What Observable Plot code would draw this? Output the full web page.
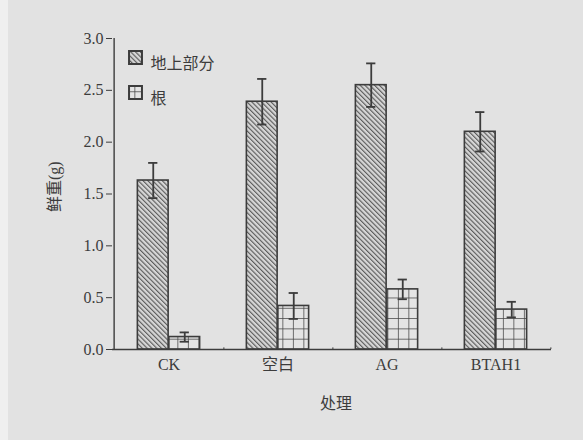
<!DOCTYPE html>
<html><head><meta charset="utf-8">
<script src="https://cdn.jsdelivr.net/npm/d3@7"></script>
<script src="https://cdn.jsdelivr.net/npm/@observablehq/plot@0.6"></script>
<style>
html,body{margin:0;padding:0;background:#e2e2e2;}
#chart{position:relative;width:583px;height:440px;background:#e2e2e2;}
#strip{position:absolute;left:0;top:0;width:8px;height:440px;background:#efefef;}
</style></head><body><div id="chart"><div id="strip"></div></div>
<script>
const categories = ["CK", "空白", "AG", "BTAH1"];
const seriesNames = ["地上部分", "根"];
const shootMean = [1.63, 2.39, 2.55, 2.10];
const shootErr = [0.17, 0.22, 0.21, 0.19];
const rootMean = [0.12, 0.42, 0.58, 0.385];
const rootErr = [0.045, 0.125, 0.095, 0.075];
const yTicks = [0, 0.5, 1.0, 1.5, 2.0, 2.5, 3.0];
const yLabel = "鲜重(g)";
const xLabel = "处理";

const W = 583, H = 440, ML = 112, MR = 32, MT = 38, MB = 91;
const BW = (W - ML - MR) / categories.length;
const BAR = 31.5, CAP = 10;
const ink = "#3c3c3c";

const shoot = categories.map((c, i) => ({cat: c, mean: shootMean[i], err: shootErr[i]}));
const root = categories.map((c, i) => ({cat: c, mean: rootMean[i], err: rootErr[i]}));

function errMarks(data, off) {
  return [
    Plot.ruleX(data, {x: "cat", y1: d => d.mean - d.err, y2: d => d.mean + d.err, dx: off, stroke: ink, strokeWidth: 1.8}),
    Plot.tickY(data, {x: "cat", y: d => d.mean + d.err, stroke: ink, strokeWidth: 1.8,
      insetLeft: BW / 2 + off - CAP / 2, insetRight: BW / 2 - off - CAP / 2}),
    Plot.tickY(data, {x: "cat", y: d => d.mean - d.err, stroke: ink, strokeWidth: 1.8,
      insetLeft: BW / 2 + off - CAP / 2, insetRight: BW / 2 - off - CAP / 2})
  ];
}

const svg = Plot.plot({
  width: W, height: H,
  marginLeft: ML, marginRight: MR, marginTop: MT, marginBottom: MB,
  style: {background: "transparent", fontFamily: "'Liberation Serif','Noto Sans CJK SC',serif", color: ink, overflow: "visible"},
  x: {domain: categories, padding: 0},
  y: {domain: [0, 3]},
  marks: [
    Plot.barY(shoot, {x: "cat", y: "mean", fill: "url(#hatch)", stroke: ink, strokeWidth: 1.6,
      insetLeft: BW / 2 - BAR, insetRight: BW / 2}),
    Plot.barY(root, {x: "cat", y: "mean", fill: "url(#grid)", stroke: ink, strokeWidth: 1.6,
      insetLeft: BW / 2, insetRight: BW / 2 - BAR}),
    ...errMarks(shoot, -BAR / 2),
    ...errMarks(root, BAR / 2),
    Plot.ruleY([0], {stroke: ink, strokeWidth: 1.4}),
    Plot.ruleX([categories[0]], {dx: -BW / 2, y1: 0, y2: 3, stroke: ink, strokeWidth: 1.4}),
    Plot.ruleX(categories, {x: d => d, dx: BW / 2, y1: 0, y2: 0.035, insetBottom: -2, stroke: ink, strokeWidth: 1}),
    Plot.axisY({ticks: yTicks, tickFormat: d => d.toFixed(1), tickSize: 6, tickPadding: 3, fontSize: 16, label: null, stroke: ink}),
    Plot.axisX({tickSize: 0, tickPadding: 9, fontSize: 16, label: null}),
    Plot.text([yLabel], {text: d => d, frameAnchor: "left", dx: -58, dy: 18, rotate: -90, fontSize: 16, fill: ink}),
    Plot.text([xLabel], {text: d => d, frameAnchor: "bottom", dx: 4, dy: 59, fontSize: 16, fill: ink}),
    Plot.dot([seriesNames[0]], {frameAnchor: "top-left", dx: 23, dy: 19, symbol: "square", r: 7.3, fill: "url(#hatch)", stroke: ink, strokeWidth: 2}),
    Plot.text([seriesNames[0]], {text: d => d, frameAnchor: "top-left", dx: 38, dy: 19, textAnchor: "start", fontSize: 16, fill: ink, style: "letter-spacing:2.5px"}),
    Plot.dot([seriesNames[1]], {frameAnchor: "top-left", dx: 23, dy: 54, symbol: "square", r: 7.3, fill: "url(#grid)", stroke: ink, strokeWidth: 2}),
    Plot.text([seriesNames[1]], {text: d => d, frameAnchor: "top-left", dx: 38, dy: 54, textAnchor: "start", fontSize: 16, fill: ink})
  ]
});

const defs = document.createElementNS("http://www.w3.org/2000/svg", "defs");
defs.innerHTML = `
<pattern id="hatch" patternUnits="userSpaceOnUse" width="3.4" height="3.4" patternTransform="rotate(-45)">
  <rect width="3.4" height="3.4" fill="#d6d6d6"/>
  <line x1="0.6" y1="0" x2="0.6" y2="3.4" stroke="#4a4a4a" stroke-width="1"/>
</pattern>
<pattern id="grid" patternUnits="userSpaceOnUse" x="${ML + BW / 2}" y="${H - MB}" width="10.5" height="10.3">
  <rect width="10.5" height="10.3" fill="#e4e4e4"/>
  <line x1="0" y1="0" x2="10.5" y2="0" stroke="#444" stroke-width="1.5"/>
  <line x1="0" y1="0" x2="0" y2="10.3" stroke="#444" stroke-width="1.5"/>
</pattern>`;
svg.insertBefore(defs, svg.firstChild);
svg.style.position = "absolute";
svg.style.left = "0";
svg.style.top = "0";
document.getElementById("chart").appendChild(svg);
</script>
</body></html>
